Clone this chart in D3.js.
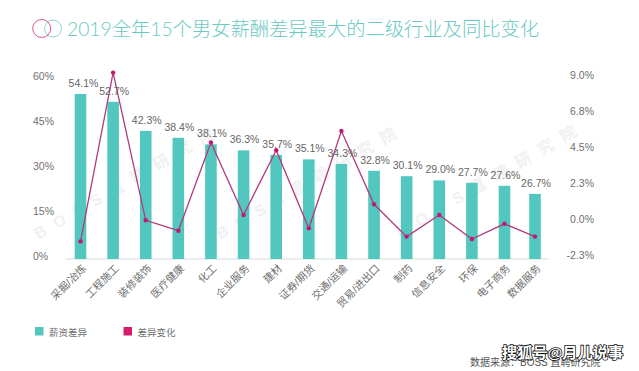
<!DOCTYPE html>
<html>
<head>
<meta charset="utf-8">
<script src="https://cdn.jsdelivr.net/npm/d3@7"></script>
<style>
  html, body { margin: 0; padding: 0; background: #fff; }
  svg { display: block; }
  text { font-family: "Liberation Sans", "Noto Sans CJK SC", sans-serif; }
</style>
</head>
<body>
<svg id="chart"></svg>
<script>
const width = 639;
const height = 371;

const categories = ["采掘/冶炼", "工程施工", "装修装饰", "医疗健康", "化工", "企业服务", "建材", "证券/期货", "交通/运输", "贸易/进出口", "制药", "信息安全", "环保", "电子商务", "数据服务"];
// bar heights as drawn, they do not quite follow the printed labels
const barValues = [55, 52.4, 42.7, 40.4, 38.2, 36.2, 34.7, 33.2, 31.7, 29.4, 27.6, 26.2, 25.4, 24.4, 21.7];
const barLabels = ["54.1%", "52.7%", "42.3%", "38.4%", "38.1%", "36.3%", "35.7%", "35.1%", "34.3%", "32.8%", "30.1%", "29.0%", "27.7%", "27.6%", "26.7%"];
const changeValues = [-1.15, 9.4, 0.17, -0.48, 5.03, 0.5, 4.55, -0.33, 5.75, 1.17, -0.85, 0.5, -1.0, -0.05, -0.85];
const leftTicks = [0, 15, 30, 45, 60];
const rightTicks = [-2.25, 0, 2.25, 4.5, 6.75, 9];
const rightTickLabels = ["-2.3%", "0.0%", "2.3%", "4.5%", "6.8%", "9.0%"];
const legendNames = ["薪资差异", "差异变化"];

const teal = "#52c7c0";
const pink = "#d81b6a";
const grey = "#707070";

const plot = { left: 65.5, right: 548, top: 79, bottom: 259 };

const svg = d3.select("#chart")
  .attr("width", width)
  .attr("height", height)
  .attr("viewBox", `0 0 ${width} ${height}`);

// last column sits a little closer in the original
const x = d3.scaleLinear()
  .domain([0, 13, 14])
  .range([80.5, 504.5, 535]);

const yLeft = d3.scaleLinear().domain([0, 60]).range([plot.bottom, plot.top]);
const yRight = d3.scaleLinear().domain([-2.25, 9]).range([plot.bottom, plot.top]);

//* watermark
[[36, 236], [218, 236], [398, 234]].forEach(([wx, wy]) => {
  svg.append("text")
    .attr("transform", `translate(${wx},${wy}) rotate(-30)`)
    .attr("font-size", 16)
    .attr("font-weight", 700)
    .attr("letter-spacing", 10)
    .attr("dominant-baseline", "middle")
    .attr("fill", "#f0f1f1")
    .text("BOSS直聘研究院");
});

//* title
svg.append("circle").attr("cx", 53).attr("cy", 28.5).attr("r", 8.5)
  .attr("fill", "none").attr("stroke", "#8fd8d3").attr("stroke-width", 1);
svg.append("circle").attr("cx", 41.7).attr("cy", 28.5).attr("r", 9)
  .attr("fill", "none").attr("stroke", "#d9578f").attr("stroke-width", 1);
svg.append("text")
  .attr("x", 67)
  .attr("y", 36)
  .attr("font-size", 19.3)
  .attr("font-weight", 300)
  .style("font-family", '"Lato", "Noto Sans CJK SC", sans-serif')
  .attr("fill", "#6cc9c2")
  .text("2019全年15个男女薪酬差异最大的二级行业及同比变化");

//* axes
svg.append("line")
  .attr("x1", plot.left).attr("x2", plot.right)
  .attr("y1", plot.bottom).attr("y2", plot.bottom)
  .attr("stroke", "#d5dbdb").attr("stroke-width", 1.2);

const leftAxis = svg.append("g")
  .attr("transform", "translate(33,-2.5)")
  .call(d3.axisLeft(yLeft).tickValues(leftTicks).tickSize(0).tickFormat(d => d + "%"));
leftAxis.select(".domain").remove();
leftAxis.selectAll("text")
  .attr("x", 0)
  .attr("text-anchor", "start")
  .attr("font-size", 10.5)
  .attr("fill", grey);

const rightAxis = svg.append("g")
  .attr("transform", "translate(594,-3.5)")
  .call(d3.axisRight(yRight).tickValues(rightTicks).tickSize(0)
    .tickFormat((d, i) => rightTickLabels[i]));
rightAxis.select(".domain").remove();
rightAxis.selectAll("text")
  .attr("x", 0)
  .attr("text-anchor", "end")
  .attr("font-size", 10.5)
  .attr("fill", grey);

const bottomAxis = svg.append("g")
  .attr("transform", `translate(0,${plot.bottom})`)
  .call(d3.axisBottom(x).tickValues(d3.range(categories.length)).tickSize(0)
    .tickFormat(i => categories[i]));
bottomAxis.select(".domain").remove();
bottomAxis.selectAll("text")
  .attr("x", 0)
  .attr("y", 0)
  .attr("dy", 0)
  .attr("text-anchor", "end")
  .attr("transform", "translate(6,10) rotate(-45)")
  .attr("font-size", 10.5)
  .attr("fill", grey);

//* bars
const barWidth = 11.6;
svg.append("g")
  .selectAll("rect")
  .data(barValues)
  .join("rect")
  .attr("x", (d, i) => x(i) - barWidth / 2)
  .attr("width", barWidth)
  .attr("y", d => yLeft(d))
  .attr("height", d => yLeft(0) - yLeft(d))
  .attr("fill", teal);

//* change line
const line = d3.line()
  .x((d, i) => x(i))
  .y(d => yRight(d));

svg.append("path")
  .datum(changeValues)
  .attr("d", line)
  .attr("fill", "none")
  .attr("stroke", "#b03a7c")
  .attr("stroke-width", 1.3);

svg.append("g")
  .selectAll("circle")
  .data(changeValues)
  .join("circle")
  .attr("cx", (d, i) => x(i))
  .attr("cy", d => yRight(d))
  .attr("r", 2.2)
  .attr("fill", "#c2186f");

//* bar labels sit about 10px above the bar
svg.append("g")
  .selectAll("text")
  .data(barLabels)
  .join("text")
  .attr("x", (d, i) => x(i) + (i === 0 ? 3 : 1))
  .attr("y", (d, i) => yLeft(barValues[i]) - 7)
  .attr("text-anchor", "middle")
  .attr("font-size", 10.5)
  .attr("fill", "#666")
  .text(d => d);

//* legend
const legend = svg.append("g")
  .selectAll("g")
  .data(legendNames)
  .join("g")
  .attr("transform", (d, i) => `translate(${35 + i * 88.5},327)`);
legend.append("rect")
  .attr("width", 8.5)
  .attr("height", 8.5)
  .attr("fill", (d, i) => i === 0 ? teal : pink);
legend.append("text")
  .attr("x", 14)
  .attr("y", 8.5)
  .attr("font-size", 9.5)
  .attr("fill", grey)
  .text(d => d);

//* source + platform mark
svg.append("text")
  .attr("x", 470)
  .attr("y", 366)
  .attr("font-size", 10)
  .attr("fill", "#555")
  .text("数据来源：BOSS 直聘研究院");

svg.append("text")
  .attr("x", 502)
  .attr("y", 358)
  .attr("font-size", 15.2)
  .attr("font-weight", 700)
  .attr("fill", "#fff")
  .attr("stroke", "#111")
  .attr("stroke-width", 1.6)
  .attr("paint-order", "stroke")
  .text("搜狐号@月儿说事");
</script>
</body>
</html>
